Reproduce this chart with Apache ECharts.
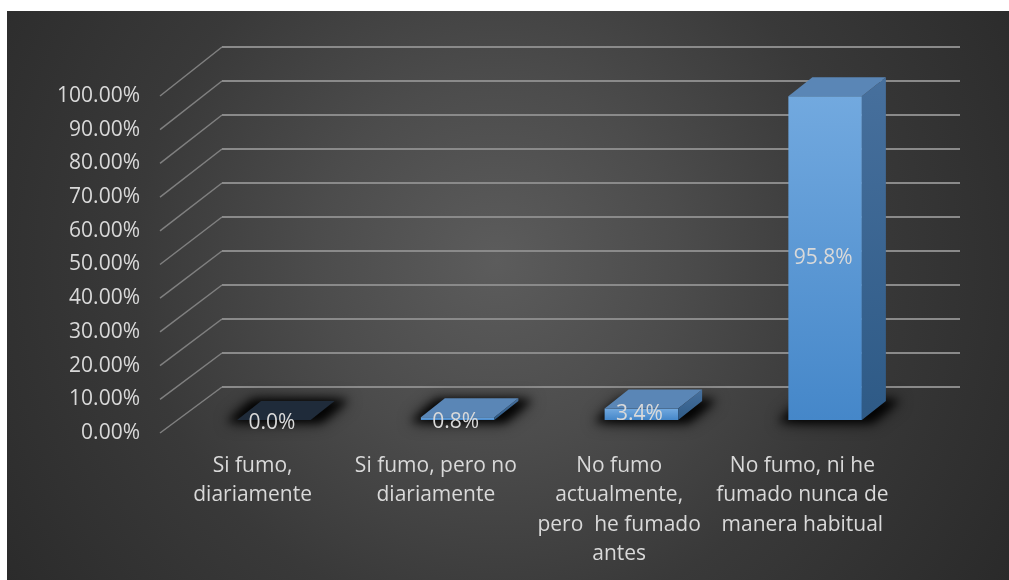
<!DOCTYPE html>
<html>
<head>
<meta charset="utf-8">
<script src="https://cdn.jsdelivr.net/npm/echarts@6/dist/echarts.min.js"></script>
<style>
  html, body { margin: 0; padding: 0; background: #ffffff; }
  #bg { position: absolute; left: 7px; top: 11px; width: 1002px; height: 569px;
        background: radial-gradient(circle farthest-corner at 490px 250px, #5c5c5c 0%, #4c4c4c 30%, #393939 60%, #2a2a2a 100%); }
  #chart { position: absolute; left: 0; top: 0; width: 1009px; height: 580px; }
</style>
</head>
<body>
<div id="bg"></div>
<div id="chart"></div>
<script>
const categories = [
  'Si fumo,\ndiariamente',
  'Si fumo, pero no\ndiariamente',
  'No fumo\nactualmente,\npero  he fumado\nantes',
  'No fumo, ni he\nfumado nunca de\nmanera habitual'
];
const barValues = [0.0, 0.8, 3.4, 95.8];
const yTicks = [0, 10, 20, 30, 40, 50, 60, 70, 80, 90, 100];

const FONT = "'Open Sans', 'Noto Sans', sans-serif";
const TEXT = '#d9d9d9';
const FS = 21;

const chart = echarts.init(document.getElementById('chart'), null, { renderer: 'canvas' });

const hiddenVal = { type: 'value', min: 0, max: 1, show: false };
const hiddenY = { type: 'value', min: 0, max: 100, interval: 10, show: false };

const option = {
  backgroundColor: 'transparent',
  animation: false,
  grid: [
    { left: 160, top: 96, width: 10, height: 337 },      // front label axis
    { left: 222, top: 47, right: 49, height: 340 },      // back wall
    { left: 182, top: 82, right: 92, height: 338 },      // bar plane
    { left: 161, top: 96, right: 115, height: 337 }      // category labels (front floor edge)
  ],
  xAxis: [
    Object.assign({ gridIndex: 0 }, hiddenVal),
    Object.assign({ gridIndex: 1 }, hiddenVal),
    { gridIndex: 2, type: 'category', data: categories, show: false },
    { gridIndex: 3, type: 'category', data: categories,
      axisLine: { show: false }, axisTick: { show: false }, splitLine: { show: false },
      axisLabel: { interval: 0, color: TEXT, fontSize: FS, lineHeight: 29.5, margin: 18, fontFamily: FONT } }
  ],
  yAxis: [
    { gridIndex: 0, type: 'value', min: 0, max: 100, interval: 10,
      axisLine: { show: false }, axisTick: { show: false }, splitLine: { show: false },
      axisLabel: { color: TEXT, fontSize: FS, margin: 20, fontFamily: FONT,
                   formatter: v => v.toFixed(2) + '%' } },
    { gridIndex: 1, type: 'value', min: 0, max: 100, interval: 10,
      axisLine: { show: false }, axisTick: { show: false }, axisLabel: { show: false },
      splitLine: { show: true, lineStyle: { color: '#8a8a8a', width: 2 } } },
    Object.assign({ gridIndex: 2 }, hiddenY),
    Object.assign({ gridIndex: 3 }, hiddenY)
  ],
  series: [{
    type: 'custom',
    xAxisIndex: 2,
    yAxisIndex: 2,
    z: 5,
    data: barValues.map((v, i) => [i, v]),
    renderItem: function (params, api) {
      const idx = api.value(0);
      const v = api.value(1);
      const base = api.coord([idx, 0]);
      const top = api.coord([idx, v]);
      const w = api.size([1, 0])[0] * 0.4;
      const dx = 24, dy = -19;
      const x0 = base[0] - w / 2, x1 = base[0] + w / 2;
      const yb = base[1], yt = top[1];
      const children = [];
      // soft floor shadow: shape drawn off-screen, only its blurred shadow lands here
      const OFF = 3000;
      const shadowPts = [[x0 - 10, yb + 2], [x0 + dx - 8, yb + dy - 1], [x1 + dx + 14, yb + dy - 1], [x1 + 10, yb + 2]];
      [16, 8].forEach(function (blur) {
        children.push({
          type: 'polygon',
          x: -OFF,
          shape: { points: shadowPts },
          style: { fill: '#000', shadowBlur: blur, shadowColor: 'rgba(0,0,0,0.85)', shadowOffsetX: OFF },
          silent: true
        });
      });
      if (yb - yt > 0.5) {
        children.push({
          type: 'rect',
          shape: { x: x0, y: yt, width: w, height: yb - yt },
          style: { fill: new echarts.graphic.LinearGradient(0, 0, 0, 1, [
            { offset: 0, color: '#72a9df' }, { offset: 1, color: '#4587c9' }]) }
        });
        children.push({
          type: 'polygon',
          shape: { points: [[x1, yt], [x1 + dx, yt + dy], [x1 + dx, yb + dy], [x1, yb]] },
          style: { fill: new echarts.graphic.LinearGradient(0, 0, 0, 1, [
            { offset: 0, color: '#47709d' }, { offset: 1, color: '#2e5a86' }]) }
        });
      }
      children.push({
        type: 'polygon',
        shape: { points: [[x0, yt], [x0 + dx, yt + dy], [x1 + dx, yt + dy], [x1, yt]] },
        style: { fill: v > 0 ? '#5a86b6' : '#1f2b3a' }
      });
      children.push({
        type: 'text',
        style: {
          text: v.toFixed(1) + '%',
          x: base[0] - 2,
          y: (yt + yb) / 2 + (v < 1 ? 3 : 0),
          align: 'center',
          verticalAlign: 'middle',
          fill: TEXT,
          font: FS + 'px ' + FONT
        },
        z2: 10
      });
      return { type: 'group', children: children };
    }
  }]
};

chart.setOption(option);

// perspective side-wall diagonals, from the front label axis to the back wall
const diagonals = yTicks.map(v => {
  const a = chart.convertToPixel({ gridIndex: 0 }, [0, v]);
  const b = chart.convertToPixel({ gridIndex: 1 }, [0, v]);
  return {
    type: 'line', silent: true, z: 1,
    shape: { x1: a[0], y1: a[1], x2: b[0], y2: b[1] },
    style: { stroke: '#808080', lineWidth: 1.5 }
  };
});
chart.setOption({ graphic: diagonals });
</script>
</body>
</html>
